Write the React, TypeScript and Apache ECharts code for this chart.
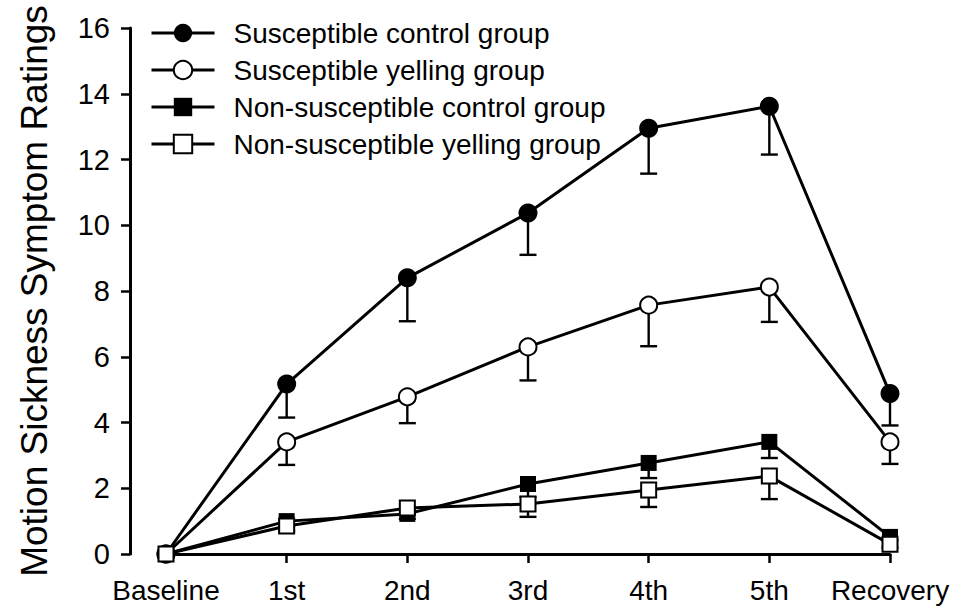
import React, { useEffect, useRef } from "react";
import * as echarts from "echarts";

const categories = ["Baseline", "1st", "2nd", "3rd", "4th", "5th", "Recovery"];
const seriesNames = [
  "Susceptible control group",
  "Susceptible yelling group",
  "Non-susceptible control group",
  "Non-susceptible yelling group",
];
const susControl = [0, 5.17, 8.4, 10.37, 12.95, 13.62, 4.88];
const susControlErr = [0, 1.02, 1.32, 1.27, 1.38, 1.47, 0.97];
const susYelling = [0, 3.41, 4.78, 6.3, 7.57, 8.12, 3.41];
const susYellingErr = [0, 0.7, 0.8, 1.02, 1.25, 1.06, 0.67];
const nonControl = [0, 1.0, 1.22, 2.13, 2.77, 3.41, 0.52];
const nonControlErr = [0, 0.15, 0.15, 0.4, 0.46, 0.49, 0.1];
const nonYelling = [0, 0.85, 1.4, 1.52, 1.95, 2.37, 0.3];
const nonYellingErr = [0, 0.15, 0.2, 0.39, 0.52, 0.7, 0.1];

const FONT = "'Liberation Sans', Arial, sans-serif";

function errRender(_params: any, api: any) {
  const x = api.value(0);
  const v = api.value(1);
  const lo = api.value(2);
  if (!(v - lo > 0)) return null;
  const p1 = api.coord([x, v]);
  const p2 = api.coord([x, lo]);
  const hw = 8.5;
  return {
    type: "group",
    children: [
      { type: "line", shape: { x1: p1[0], y1: p1[1], x2: p2[0], y2: p2[1] }, style: { stroke: "#000", lineWidth: 2.4 } },
      { type: "line", shape: { x1: p2[0] - hw, y1: p2[1], x2: p2[0] + hw, y2: p2[1] }, style: { stroke: "#000", lineWidth: 2.4 } },
    ],
  };
}

function errSeries(name: string, vals: number[], errs: number[]) {
  return {
    type: "custom",
    name,
    renderItem: errRender,
    z: 1,
    silent: true,
    encode: { x: 0, y: [1, 2] },
    data: vals.map((v, i) => [i, v, v - errs[i]]),
  };
}

export default function App() {
  const ref = useRef<HTMLDivElement>(null);
  useEffect(() => {
    document.body.style.margin = "0";
    const chart = echarts.init(ref.current!, null, { renderer: "svg" });
    const lineBase = {
      type: "line",
      z: 2,
      lineStyle: { color: "#000", width: 3 },
    };
    chart.setOption({
      animation: false,
      backgroundColor: "#fff",
      grid: { left: 166, right: 72, top: 28, bottom: 56 },
      legend: {
        orient: "vertical",
        left: 150,
        top: 19,
        padding: 0,
        itemGap: 9,
        itemWidth: 63,
        itemHeight: 23,
        data: seriesNames,
        lineStyle: { width: 3, color: "#000" },
        textStyle: { fontSize: 28, fontFamily: FONT, color: "#000", padding: [0, 0, 0, 14] },
      },
      xAxis: {
        type: "category",
        data: categories,
        boundaryGap: false,
        axisLine: { lineStyle: { color: "#000", width: 3 } },
        axisTick: { show: true, length: 9, interval: 0, lineStyle: { color: "#000", width: 2.5 } },
        axisLabel: { fontSize: 28, fontFamily: FONT, color: "#000", margin: 22, interval: 0 },
        splitLine: { show: false },
      },
      yAxis: {
        type: "value",
        min: 0,
        max: 16,
        interval: 2,
        offset: 36,
        name: "Motion Sickness Symptom Ratings",
        nameLocation: "middle",
        nameGap: 77,
        nameTextStyle: { fontSize: 37, fontFamily: FONT, color: "#000" },
        axisLine: { show: true, lineStyle: { color: "#000", width: 3 } },
        axisTick: { show: true, length: 9, lineStyle: { color: "#000", width: 2.5 } },
        axisLabel: { fontSize: 29, fontFamily: FONT, color: "#000", margin: 20 },
        splitLine: { show: false },
      },
      series: [
        errSeries("err0", susControl, susControlErr),
        errSeries("err1", susYelling, susYellingErr),
        errSeries("err2", nonControl, nonControlErr),
        errSeries("err3", nonYelling, nonYellingErr),
        {
          ...lineBase,
          name: seriesNames[0],
          data: susControl,
          symbol: "circle",
          symbolSize: 19,
          itemStyle: { color: "#000", borderWidth: 0 },
        },
        {
          ...lineBase,
          name: seriesNames[1],
          data: susYelling,
          symbol: "circle",
          symbolSize: 17,
          itemStyle: { color: "#fff", borderColor: "#000", borderWidth: 2 },
        },
        {
          ...lineBase,
          name: seriesNames[2],
          data: nonControl,
          symbol: "rect",
          symbolSize: 16,
          itemStyle: { color: "#000", borderWidth: 0 },
        },
        {
          ...lineBase,
          name: seriesNames[3],
          data: nonYelling,
          symbol: "rect",
          symbolSize: 15,
          itemStyle: { color: "#fff", borderColor: "#000", borderWidth: 2 },
        },
      ],
    });
    return () => chart.dispose();
  }, []);
  return <div ref={ref} style={{ width: 962, height: 610 }} />;
}
